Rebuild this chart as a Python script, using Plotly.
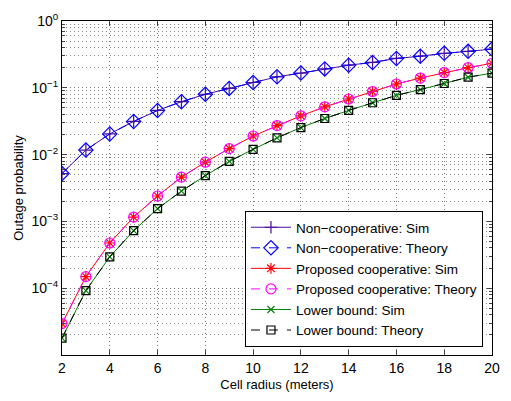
import plotly.graph_objects as go

radius = list(range(2, 21))

noncoop_sim = [5.2e-3, 0.0117, 0.0204, 0.0314, 0.0458, 0.062, 0.080, 0.098, 0.12, 0.146,
               0.166, 0.192, 0.218, 0.24, 0.275, 0.297, 0.328, 0.351, 0.38]
noncoop_theory = noncoop_sim[:]
coop_sim = [2.95e-5, 1.49e-4, 4.75e-4, 1.16e-3, 2.4e-3, 4.6e-3, 7.7e-3, 0.0123, 0.019, 0.0272,
            0.038, 0.0519, 0.068, 0.088, 0.114, 0.14, 0.169, 0.20, 0.233]
coop_theory = coop_sim[:]
lb_sim = [1.79e-5, 9.2e-5, 2.95e-4, 7.26e-4, 1.55e-3, 2.84e-3, 4.85e-3, 7.9e-3, 0.012, 0.0178,
          0.0254, 0.0347, 0.0458, 0.0597, 0.0772, 0.094, 0.116, 0.144, 0.166]
lb_theory = lb_sim[:]

y_tickvals = [1e-4, 1e-3, 1e-2, 1e-1, 1]
y_ticktext = ["10<sup>\u22124</sup>", "10<sup>\u22123</sup>", "10<sup>\u22122</sup>",
              "10<sup>\u22121</sup>", "10<sup>0</sup>"]
x_tickvals = [2, 4, 6, 8, 10, 12, 14, 16, 18, 20]

series = [
    ("Non\u2212cooperative: Sim", noncoop_sim, "#4b0aa0", "solid", "cross-thin-open", 9),
    ("Non\u2212cooperative: Theory", noncoop_theory, "#0000ff", "dash", "diamond-open", 11),
    ("Proposed cooperative: Sim", coop_sim, "#ff0000", "solid", "asterisk-open", 9),
    ("Proposed cooperative: Theory", coop_theory, "#ff00ff", "dash", "circle-open", 10),
    ("Lower bound: Sim", lb_sim, "#008000", "solid", "x-thin-open", 7),
    ("Lower bound: Theory", lb_theory, "#000000", "dash", "square-open", 8),
]

fig = go.Figure()
for name, vals, color, dash, sym, size in series:
    fig.add_trace(go.Scatter(
        x=radius, y=vals, name=name, mode="lines+markers",
        line=dict(color=color, width=1, dash=dash),
        marker=dict(symbol=sym, size=size, color=color, line=dict(color=color, width=1.2)),
    ))

font = "Liberation Sans, Arial, Helvetica, sans-serif"
fig.update_layout(
    width=511, height=401,
    margin=dict(l=62, r=11, t=15, b=41),
    paper_bgcolor="white", plot_bgcolor="white",
    font=dict(family=font, size=13, color="black"),
    showlegend=True,
    legend=dict(
        x=0.979, y=0.024, xanchor="right", yanchor="bottom",
        bgcolor="white", bordercolor="black", borderwidth=1,
        font=dict(family=font, size=13.5), tracegroupgap=0,
        itemwidth=40,
    ),
    xaxis=dict(
        range=[2, 20], tickvals=x_tickvals, ticks="inside", ticklen=5,
        showline=True, linecolor="black", linewidth=1, mirror="allticks",
        showgrid=True, gridcolor="#777777", griddash="1px,3px", gridwidth=1,
        zeroline=False, tickfont=dict(size=14),
        title=dict(text="Cell radius (meters)", font=dict(size=13), standoff=5),
    ),
    yaxis=dict(
        type="log", range=[-5, 0], tickvals=y_tickvals, ticktext=y_ticktext,
        ticks="inside", ticklen=5,
        showline=True, linecolor="black", linewidth=1, mirror="allticks",
        showgrid=True, gridcolor="#777777", griddash="1px,3px", gridwidth=1,
        zeroline=False, tickfont=dict(size=14),
        minor=dict(dtick="D1", ticks="inside", ticklen=3, showgrid=True,
                   gridcolor="#8a8a8a", griddash="1px,3px", gridwidth=1),
        title=dict(text="Outage probability", font=dict(size=13), standoff=4),
    ),
)

fig.write_html("out.html")
